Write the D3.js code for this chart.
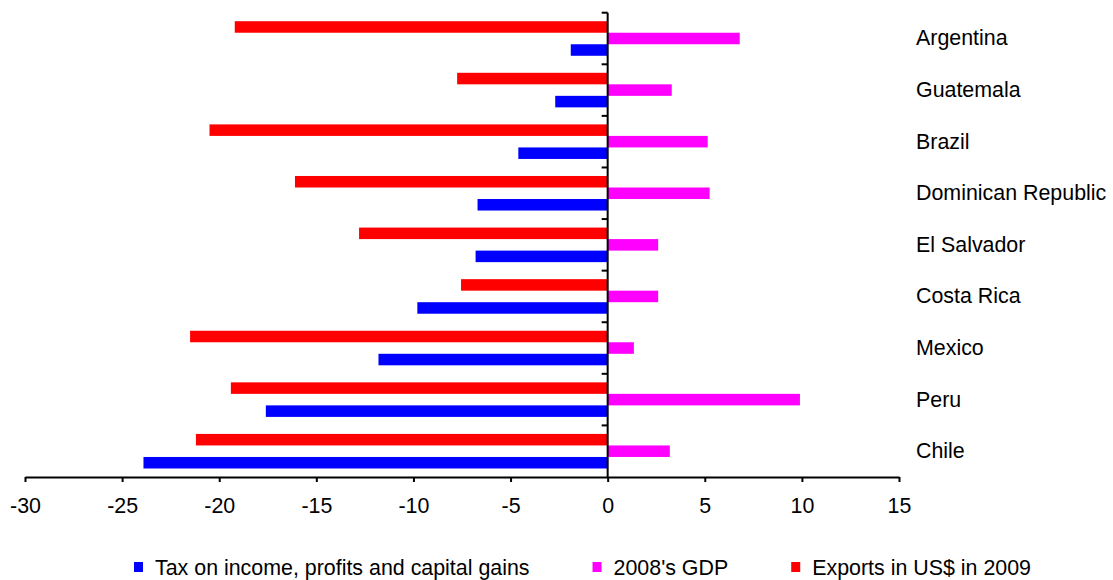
<!DOCTYPE html>
<html>
<head>
<meta charset="utf-8">
<script src="https://cdn.jsdelivr.net/npm/d3@7"></script>
<style>
  body { margin: 0; background: #fff; }
  text { font-family: "Liberation Sans", Arial, sans-serif; font-size: 21.4px; fill: #000; }
</style>
</head>
<body>
<div class="chart"></div>
<script>
var svgWidth = 1113;
var svgHeight = 580;

// chart data
var countries = ["Argentina", "Guatemala", "Brazil", "Dominican Republic", "El Salvador", "Costa Rica", "Mexico", "Peru", "Chile"];
var taxIncome = [-1.9, -2.7, -4.6, -6.7, -6.8, -9.8, -11.8, -17.6, -23.9];
var gdp2008 = [6.8, 3.3, 5.15, 5.25, 2.6, 2.6, 1.35, 9.9, 3.2];
var exports2009 = [-19.2, -7.75, -20.5, -16.1, -12.8, -7.55, -21.5, -19.4, -21.2];
var xTicks = [-30, -25, -20, -15, -10, -5, 0, 5, 10, 15];

var seriesNames = ["Tax on income, profits and capital gains", "2008's GDP", "Exports in US$ in 2009"];
var seriesColors = ["#0000ff", "#ff00ff", "#ff0000"];
var seriesValues = [taxIncome, gdp2008, exports2009];

var svg = d3.select(".chart")
  .append("svg")
  .attr("width", svgWidth)
  .attr("height", svgHeight);

// scales
var xScale = d3.scaleLinear()
  .domain([-30, 15])
  .range([25, 899]);

var yScale = d3.scaleBand()
  .domain(countries)
  .range([12.7, 477])
  .paddingInner(0.33)
  .paddingOuter(0.165);

// bars inside a category, drawn top to bottom: exports, GDP, tax
var subScale = d3.scaleBand()
  .domain([2, 1, 0])
  .range([0, yScale.bandwidth()]);

var rows = [];
countries.forEach(function(c, i) {
  seriesValues.forEach(function(vals, s) {
    rows.push({country: c, series: s, value: vals[i]});
  });
});

svg.append("g")
  .selectAll("rect")
  .data(rows)
  .enter()
  .append("rect")
  .attr("x", d => xScale(Math.min(0, d.value)))
  .attr("width", d => Math.abs(xScale(d.value) - xScale(0)))
  .attr("y", d => yScale(d.country) + subScale(d.series))
  .attr("height", subScale.bandwidth())
  .attr("fill", d => seriesColors[d.series]);

// bottom axis (plain hyphen for negatives)
var bottomAxis = d3.axisBottom(xScale)
  .tickValues(xTicks)
  .tickFormat(d => String(d))
  .tickSize(5)
  .tickPadding(16)
  .tickSizeOuter(0);

var xAxisG = svg.append("g")
  .attr("transform", `translate(0, 477)`)
  .call(bottomAxis);
xAxisG.select(".domain").attr("stroke", "#000").attr("stroke-width", 2);
xAxisG.selectAll(".tick line").attr("stroke", "#000").attr("stroke-width", 2);
xAxisG.selectAll(".tick text")
  .style("font-family", "'Liberation Sans', Arial, sans-serif")
  .style("font-size", "21.4px");

// vertical axis at zero with ticks between categories
var step = yScale.step();
var boundaries = countries.map(c => yScale(c) - step * yScale.paddingInner() / 2);

svg.append("line")
  .attr("x1", xScale(0))
  .attr("x2", xScale(0))
  .attr("y1", boundaries[0])
  .attr("y2", 477)
  .attr("stroke", "#000")
  .attr("stroke-width", 2);

svg.append("g")
  .selectAll("line")
  .data(boundaries)
  .enter()
  .append("line")
  .attr("x1", xScale(0) - 6)
  .attr("x2", xScale(0))
  .attr("y1", d => d)
  .attr("y2", d => d)
  .attr("stroke", "#000")
  .attr("stroke-width", 2);

// country names on the right
svg.append("g")
  .selectAll("text")
  .data(countries)
  .enter()
  .append("text")
  .attr("x", 916)
  .attr("y", d => yScale(d) + yScale.bandwidth() / 2 + 7)
  .text(d => d);

// legend
var legend = svg.append("g");
var lx = 134;
seriesNames.forEach(function(name, i) {
  legend.append("rect")
    .attr("x", lx)
    .attr("y", 562)
    .attr("width", 9)
    .attr("height", 10)
    .attr("fill", seriesColors[i]);
  var t = legend.append("text")
    .attr("x", lx + 21)
    .attr("y", 575)
    .text(name);
  lx = lx + 21 + t.node().getComputedTextLength() + 63;
});
</script>
</body>
</html>
